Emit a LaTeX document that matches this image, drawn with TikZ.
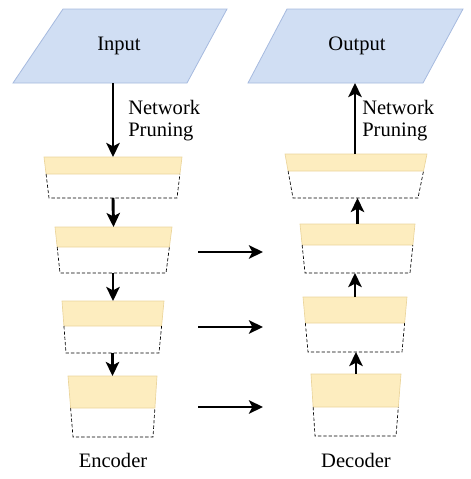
\documentclass[tikz,border=0pt]{standalone}
\usepackage{fontspec}
\setmainfont{Liberation Serif}
\newfontfamily\serfont{Liberation Serif}
\usetikzlibrary{arrows.meta,calc}
\definecolor{pblue}{HTML}{D0DEF3}
\definecolor{pblueline}{HTML}{A6BADF}
\definecolor{byel}{HTML}{FDEDBF}
\definecolor{byelline}{HTML}{EBD59C}
\tikzset{
  io/.style={fill=pblue, draw=pblueline, line width=0.6pt},
  yel/.style={fill=byel, draw=byelline, line width=0.5pt},
  dsh/.style={draw=black, line width=0.5pt, dash pattern=on 2.5pt off 1.5pt},
  conn/.style={line width=2.2pt, -{Stealth[length=10.5pt,width=10pt,inset=2.5pt]}},
  lbl/.style={font=\serfont\fontsize{15.4}{16.5}\selectfont, inner sep=0pt, align=left},
}
% name, ytop, xtl, xtr, yyel, ybot, xbl, xbr
\newcommand{\blk}[8]{%
  \pgfmathsetmacro\myt{(#5-#2)/(#6-#2)}%
  \coordinate (#1-tl) at (#3,#2);
  \coordinate (#1-tr) at (#4,#2);
  \coordinate (#1-bl) at (#7,#6);
  \coordinate (#1-br) at (#8,#6);
  \coordinate (#1-ml) at ($(#1-tl)!\myt!(#1-bl)$);
  \coordinate (#1-mr) at ($(#1-tr)!\myt!(#1-br)$);
  \path[yel] (#1-tl) -- (#1-tr) -- (#1-mr) -- (#1-ml) -- cycle;
  \draw[dsh] (#1-ml) -- (#1-bl) -- (#1-br) -- (#1-mr);
  \coordinate (#1-t) at ($(#1-tl)!0.5!(#1-tr)$);
  \coordinate (#1-b) at ($(#1-bl)!0.5!(#1-br)$);
}
\begin{document}
\begin{tikzpicture}[x=0.75pt,y=-0.75pt]
\useasboundingbox (0,0) rectangle (471,479);
% parallelograms
\path[io] (63,9) -- (227,9) -- (187,83) -- (13,83) -- cycle;
\node[lbl] (in) at (119,46) {Input};
\coordinate (inb) at (113,83);
\path[io] (287,9) -- (463,9) -- (423,83) -- (248,83) -- cycle;
\node[lbl] (out) at (357,46) {Output};
\coordinate (outb) at (355,83);
% encoder blocks
\blk{e1}{157}{44}{182}{174}{198}{49}{177}
\blk{e2}{227}{55}{172}{247}{273}{60}{166}
\blk{e3}{301}{62}{164}{326}{353}{66}{159}
\blk{e4}{376}{68}{157}{408}{437}{73}{153}
% decoder blocks
\blk{d1}{154}{285}{427}{171}{198}{293}{418}
\blk{d2}{224}{300}{415}{245}{273}{305}{410}
\blk{d3}{297}{303}{407}{323}{352}{308}{402}
\blk{d4}{374}{311}{401}{407}{436}{315}{396}
% labels
\node[lbl, anchor=west] (np1) at (128,121) {Network\\Pruning};
\node[lbl, anchor=west] (np2) at (362,121) {Network\\Pruning};
\node[lbl] (enc) at (113,460) {Encoder};
\node[lbl] (dec) at (356,460) {Decoder};
% vertical arrows encoder
\draw[conn] (inb) -- (inb |- e1-t);
\draw[conn] (e1-b) -- (e2-t);
\draw[conn] (e2-b) -- (e3-t);
\draw[conn] (e3-b) -- (e4-t);
% vertical arrows decoder
\draw[conn] (d4-t) -- (d4-t |- d3-b);
\draw[conn] (d3-t) -- (d3-t |- d2-b);
\draw[conn] (d2-t) -- (d2-t |- d1-b);
\draw[conn] (d1-t -| outb) -- (outb);
% horizontal arrows
\coordinate (h1s) at (198,252); \coordinate (h1e) at (263,252);
\coordinate (h2s) at (198,327); \coordinate (h2e) at (263,327);
\coordinate (h3s) at (198,407); \coordinate (h3e) at (263,407);
\draw[conn] (h1s) -- (h1e);
\draw[conn] (h2s) -- (h2e);
\draw[conn] (h3s) -- (h3e);
\end{tikzpicture}
\end{document}
